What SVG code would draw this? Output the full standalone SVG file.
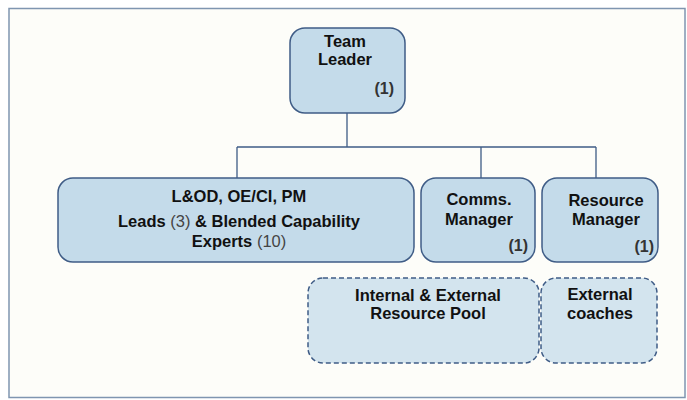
<svg xmlns="http://www.w3.org/2000/svg" width="687" height="400" viewBox="0 0 687 400">
<defs>
<style>
.node{fill:#c4dbea;stroke:#3f5c86;stroke-width:1.5}
.pool{fill:#d3e4ee;stroke:#3f5c86;stroke-width:1.5;stroke-dasharray:5 3}
.t{font-family:"Liberation Sans",Arial,sans-serif;font-size:16.5px;font-weight:bold;fill:#111;text-anchor:middle}
.n{font-weight:normal;fill:#444}
.c{font-family:"Liberation Sans",Arial,sans-serif;font-size:16px;font-weight:bold;fill:#333;text-anchor:end}
.conn{fill:none;stroke:#3f5c86;stroke-width:1.3}
</style>
</defs>
<rect x="0" y="0" width="687" height="400" fill="#ffffff"/>
<rect x="9" y="8.5" width="676" height="389" fill="#fdfdf9" stroke="#7f95b0" stroke-width="1.5"/>
<g id="connectors">
<path class="conn" d="M347 113 V147 M237 147 H596 M237 147 V178 M481 147 V178 M596 147 V178"/>
</g>
<g id="team-leader">
<rect class="node" x="290" y="28" width="115" height="85" rx="15"/>
<text class="t" x="345" y="47">Team</text>
<text class="t" x="345" y="65">Leader</text>
<text class="c" x="394" y="94">(1)</text>
</g>
<g id="leads">
<rect class="node" x="58" y="178" width="356" height="84" rx="15"/>
<text class="t" x="239" y="202">L&amp;OD, OE/CI, PM</text>
<text class="t" x="239" y="227">Leads <tspan class="n">(3)</tspan> &amp; Blended Capability</text>
<text class="t" x="239" y="247">Experts <tspan class="n">(10)</tspan></text>
</g>
<g id="comms-manager">
<rect class="node" x="421" y="178" width="114" height="84" rx="15"/>
<text class="t" x="479" y="205">Comms.</text>
<text class="t" x="479" y="225">Manager</text>
<text class="c" x="528" y="251">(1)</text>
</g>
<g id="resource-manager">
<rect class="node" x="542" y="178" width="116" height="84" rx="15"/>
<text class="t" x="606" y="206">Resource</text>
<text class="t" x="606" y="225">Manager</text>
<text class="c" x="654" y="252">(1)</text>
</g>
<g id="resource-pool">
<rect class="pool" x="308" y="278" width="231" height="85" rx="15"/>
<text class="t" x="428" y="301">Internal &amp; External</text>
<text class="t" x="428" y="319">Resource Pool</text>
</g>
<g id="external-coaches">
<rect class="pool" x="541" y="278" width="116" height="85" rx="15"/>
<text class="t" x="600" y="300">External</text>
<text class="t" x="600" y="319">coaches</text>
</g>
</svg>
